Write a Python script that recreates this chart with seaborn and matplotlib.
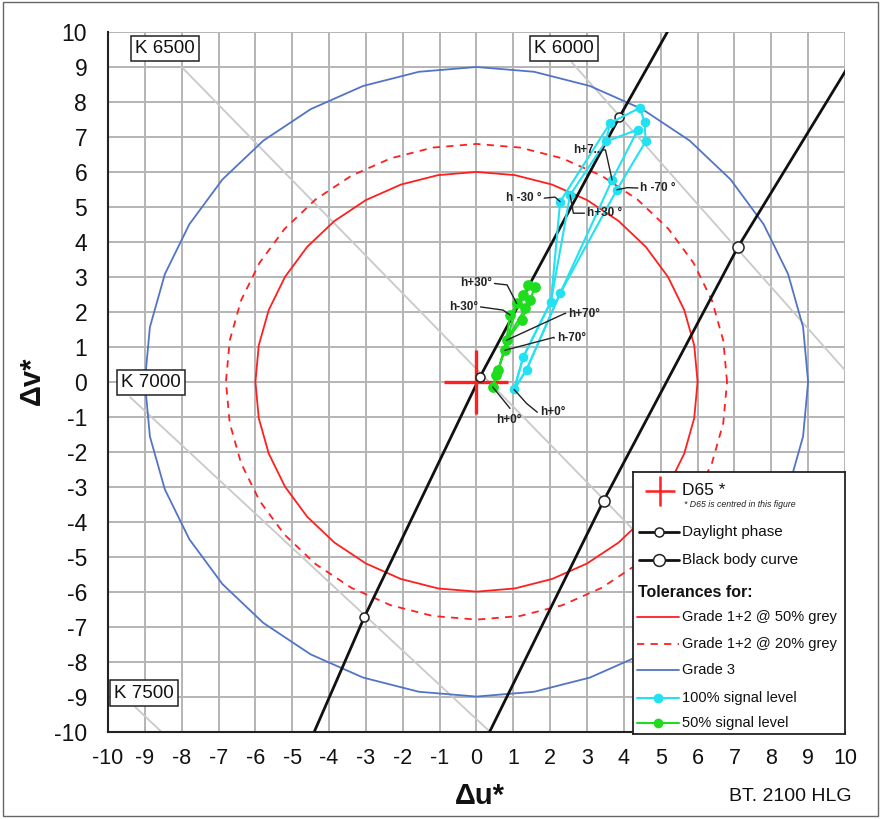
import numpy as np
import pandas as pd
import matplotlib
matplotlib.use("Agg")
import matplotlib.pyplot as plt
from matplotlib.patches import Rectangle
import seaborn as sns

# ---------------- data (Δu*, Δv* relative to D65) ----------------
tolerance_names = ["Grade 1+2 @ 50% grey", "Grade 1+2 @ 20% grey", "Grade 3"]
tolerance_radius = [6.0, 6.8, 9.0]

daylight_u = [-4.40, -3.04, 0.09, 3.88, 5.18]
daylight_v = [-10.0, -6.72, 0.13, 7.57, 10.0]
daylight_marked = [False, True, True, True, False]

blackbody_u = [0.36, 3.45, 7.10, 10.04]
blackbody_v = [-10.0, -3.40, 3.86, 8.93]
blackbody_marked = [False, True, True, False]

iso_labels = ["K 6500", "K 6000", "K 7000", "K 7500"]
iso_label_u = [-8.46, 2.37, -8.84, -9.02]
iso_label_v = [9.53, 9.53, -0.03, -8.90]
iso_start_u = [-8.00, 2.59, -9.40, -9.26]
iso_start_v = [9.00, 9.13, -0.44, -9.30]
iso_end_u = [4.60, 10.00, 0.36, -8.56]
iso_end_v = [-4.60, 0.33, -10.00, -10.00]

# 100% signal level
cyan_u = [1.02, 1.27, 1.36, 2.02, 2.27, 2.27, 2.54, 3.68, 3.81, 3.51, 3.63, 4.38, 4.43, 4.56, 4.59]
cyan_v = [-0.22, 0.71, 0.35, 2.29, 2.53, 5.15, 5.34, 5.77, 5.49, 6.87, 7.40, 7.21, 7.83, 7.44, 6.87]
cyan_paths = [[0, 1, 3, 6, 9, 11, 7, 4, 2, 0],
              [0, 2, 4, 8, 14, 13, 12, 10, 5, 3, 1, 0],
              [9, 10]]

# 50% signal level
green_u = [0.44, 0.54, 0.59, 0.77, 0.82, 0.91, 1.09, 1.23, 1.27, 1.32, 1.41, 1.45, 1.59]
green_v = [-0.15, 0.19, 0.33, 0.90, 1.19, 1.91, 2.24, 1.76, 2.48, 2.10, 2.77, 2.34, 2.72]
green_paths = [[0, 1, 3, 5, 8, 10, 12, 11, 7, 4, 2, 0],
               [3, 6, 9, 4]]

# hue labels: text, series, point index, text (u, v), alignment, elbow (u, v)
hue_text = ["h+30°", "h-30°", "h+70°", "h-70°", "h+0°",
            "h+0°", "h+7..", "h -70 °", "h -30 °", "h+30 °"]
hue_series = ["g", "g", "g", "g", "g", "c", "c", "c", "c", "c"]
hue_index = [6, 5, 4, 3, 0, 0, 7, 8, 5, 6]
hue_tu = [0.42, 0.04, 2.49, 2.18, 0.87, 1.72, 3.36, 4.45, 1.77, 3.00]
hue_tv = [2.81, 2.14, 1.95, 1.25, -1.10, -0.87, 6.63, 5.54, 5.25, 4.82]
hue_ha = ["right", "right", "left", "left", "center", "left", "right", "left", "right", "left"]
hue_eu = [0.83, 0.72, 2.41, 2.10, 0.91, 1.36, 3.50, 4.09, 2.13, 2.63]
hue_ev = [2.77, 2.05, 1.96, 1.27, -0.76, -0.62, 6.63, 5.55, 5.28, 4.82]

# ---------------- style ----------------
RED = "#ff1f1f"
BLUE = "#5274c8"
CYAN = "#22e2f2"
GREEN = "#1edc1e"
GRID = "#b4b4b4"
ISO = "#c9c9c9"

sns.set_theme(style="white")
plt.rcParams["font.family"] = ["Liberation Sans", "DejaVu Sans"]
plt.rcParams["axes.unicode_minus"] = False

fig = plt.figure(figsize=(8.81, 8.19), dpi=100)
ax = fig.add_axes([0.1226, 0.1068, 0.8365, 0.8541])
ax.set_xlim(-10, 10)
ax.set_ylim(-10, 10)
ax.set_xticks(range(-10, 11))
ax.set_yticks(range(-10, 11))
ax.grid(True, color=GRID, linewidth=1.4, zorder=0)
ax.set_axisbelow(True)
for side in ["top", "right"]:
    ax.spines[side].set_visible(False)
for side in ["left", "bottom"]:
    ax.spines[side].set_color("#222222")
    ax.spines[side].set_linewidth(1.5)
ax.tick_params(axis="both", direction="out", length=7, width=1.2, color="#222222",
               labelcolor="#111111")
ax.tick_params(axis="y", pad=8, labelsize=16.5)
ax.tick_params(axis="x", pad=5, labelsize=15.5)

# iso-temperature lines with their labels
for lab, lu, lv, su, sv, eu, ev in zip(iso_labels, iso_label_u, iso_label_v,
                                       iso_start_u, iso_start_v, iso_end_u, iso_end_v):
    ax.plot([su, eu], [sv, ev], color=ISO, linewidth=1.3, zorder=1)
    ax.text(lu, lv, lab, ha="center", va="center", fontsize=13.5, color="#111111", zorder=6,
            bbox=dict(boxstyle="square,pad=0.22", facecolor="white", edgecolor="#222222",
                      linewidth=1.1))

# tolerance circles (10° polygon steps)
theta = np.deg2rad(np.arange(0, 361, 10))
tol_styles = [dict(color=RED, linestyle="-"),
              dict(color=RED, linestyle=(0, (4, 3.5))),
              dict(color=BLUE, linestyle="-")]
for r, st in zip(tolerance_radius, tol_styles):
    circ = pd.DataFrame({"u": r * np.cos(theta), "v": r * np.sin(theta)})
    sns.lineplot(data=circ, x="u", y="v", sort=False, estimator=None, ax=ax,
                 linewidth=1.3, zorder=2, **st)

# daylight phase and black body curve
for us, vs, marked, ms in [(daylight_u, daylight_v, daylight_marked, 6.5),
                           (blackbody_u, blackbody_v, blackbody_marked, 8)]:
    df = pd.DataFrame({"u": us, "v": vs})
    sns.lineplot(data=df, x="u", y="v", sort=False, estimator=None, ax=ax,
                 color="#111111", linewidth=2.0, zorder=3)
    mk = df[np.array(marked)]
    ax.plot(mk["u"], mk["v"], linestyle="none", marker="o", markersize=ms,
            markerfacecolor="white", markeredgecolor="#222222", markeredgewidth=1.1, zorder=4)

# D65 cross at the origin
ax.plot([0], [0], marker="+", markersize=46, markeredgewidth=2.4, color=RED, zorder=3.5)


def draw_series(us, vs, paths, color, ms):
    rows = []
    for k, path in enumerate(paths):
        for order, i in enumerate(path):
            rows.append({"trace": k, "order": order, "u": us[i], "v": vs[i]})
    df = pd.DataFrame(rows)
    sns.lineplot(data=df, x="u", y="v", units="trace", estimator=None, sort=False,
                 color=color, linewidth=1.5, ax=ax, zorder=5)
    pts = pd.DataFrame({"u": us, "v": vs})
    sns.scatterplot(data=pts, x="u", y="v", color=color, s=ms, linewidth=0, ax=ax, zorder=5.5)


draw_series(cyan_u, cyan_v, cyan_paths, CYAN, 48)
draw_series(green_u, green_v, green_paths, GREEN, 60)

# hue labels with leader lines
for txt, ser, idx, tu, tv, ha, eu, ev in zip(hue_text, hue_series, hue_index, hue_tu, hue_tv,
                                             hue_ha, hue_eu, hue_ev):
    pu = (cyan_u if ser == "c" else green_u)[idx]
    pv = (cyan_v if ser == "c" else green_v)[idx]
    if ha == "right":
        su = tu + 0.07
    elif ha == "left":
        su = tu - 0.07
    else:
        su = eu
    sv = tv if ha != "center" else ev
    ax.plot([su, eu, pu], [sv, ev, pv], color="#222222", linewidth=1.0, zorder=6)
    ax.text(tu, tv, txt, ha=ha, va="center", fontsize=8.5, fontweight="bold",
            color="#222222", zorder=7)

ax.set_xlabel("")
ax.set_ylabel("")
fig.text(0.545, 0.028, "Δu*", ha="center", va="center", fontsize=21, fontweight="bold",
         color="#111111")
fig.text(0.036, 0.535, "Δv*", ha="center", va="center", fontsize=21, fontweight="bold",
         rotation=90, color="#111111")
fig.text(0.967, 0.027, "BT. 2100 HLG", ha="right", va="center", fontsize=14,
         color="#111111")

# ---------------- legend panel ----------------
lx0, ly0, lx1, ly1 = 0.7185, 0.1035, 0.9591, 0.4237
lax = fig.add_axes([lx0, ly0, lx1 - lx0, ly1 - ly0], zorder=10)
W = (lx1 - lx0) * 881
H = (ly1 - ly0) * 819
lax.set_xlim(0, W)
lax.set_ylim(H, 0)
lax.set_xticks([])
lax.set_yticks([])
lax.set_facecolor("white")
for s in lax.spines.values():
    s.set_color("#222222")
    s.set_linewidth(1.3)
    s.set_visible(True)

lax.plot([27], [19], marker="+", markersize=22, markeredgewidth=1.8, color=RED)
lax.text(49, 19, "D65 *", fontsize=12.5, va="center", ha="left", color="#111111")
lax.text(51, 33, "* D65 is centred in this figure", fontsize=6.3, style="italic",
         va="center", ha="left", color="#222222")

lax.plot([6, 46], [60, 60], color="#111111", linewidth=2.0)
lax.plot([26], [60], marker="o", markersize=6.5, markerfacecolor="white",
         markeredgecolor="#222222", markeredgewidth=1.1)
lax.text(49, 60, "Daylight phase", fontsize=11, va="center", ha="left", color="#111111")

lax.plot([6, 46], [88, 88], color="#111111", linewidth=2.0)
lax.plot([26], [88], marker="o", markersize=8.5, markerfacecolor="white",
         markeredgecolor="#222222", markeredgewidth=1.1)
lax.text(49, 88, "Black body curve", fontsize=11, va="center", ha="left", color="#111111")

lax.text(5, 121, "Tolerances for:", fontsize=11.5, fontweight="bold", va="center", ha="left",
         color="#111111")

leg_rows = [(145, dict(color=RED, linestyle="-"), tolerance_names[0]),
            (172, dict(color=RED, linestyle=(0, (4, 3.5))), tolerance_names[1]),
            (198, dict(color=BLUE, linestyle="-"), tolerance_names[2])]
for y, st, name in leg_rows:
    lax.plot([4, 46], [y, y], linewidth=1.3, **st)
    lax.text(49, y, name, fontsize=10.5, va="center", ha="left", color="#111111")

for y, col, name in [(226, CYAN, "100% signal level"), (251, GREEN, "50% signal level")]:
    lax.plot([4, 46], [y, y], color=col, linewidth=1.5)
    lax.plot([25], [y], marker="o", markersize=7, color=col, markeredgewidth=0)
    lax.text(49, y, name, fontsize=10.5, va="center", ha="left", color="#111111")

# outer frame of the figure
fig.patches.append(Rectangle((0.003, 0.004), 0.994, 0.994, transform=fig.transFigure,
                             fill=False, edgecolor="#666666", linewidth=1.0))

fig.savefig("out.png", dpi=100)
